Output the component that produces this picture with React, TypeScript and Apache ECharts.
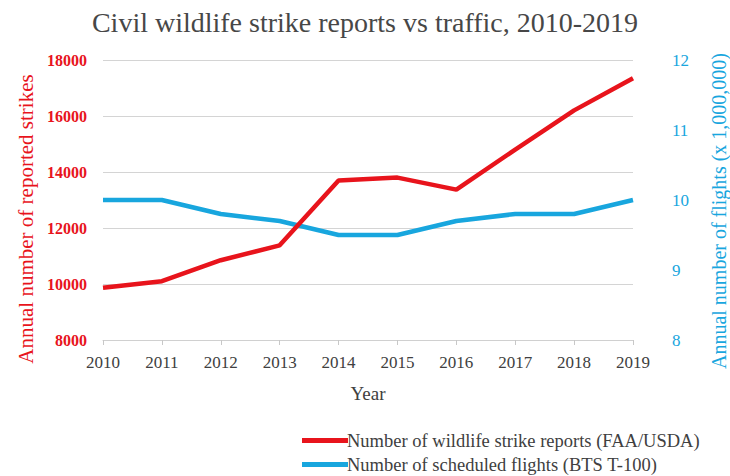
import React, { useEffect, useRef } from "react";
import * as echarts from "echarts";

const years = ["2010", "2011", "2012", "2013", "2014", "2015", "2016", "2017", "2018", "2019"];
const strikeReports = [9870, 10100, 10850, 11380, 13700, 13800, 13370, 14800, 16200, 17350];
const scheduledFlights = [10.0, 10.0, 9.8, 9.7, 9.5, 9.5, 9.7, 9.8, 9.8, 10.0];

const RED = "#e8141c";
const BLUE = "#18a6de";
const FONT = "Liberation Serif";
const STRIKE_NAME = "Number of wildlife strike reports (FAA/USDA)";
const FLIGHT_NAME = "Number of scheduled flights (BTS T-100)";

export default function App() {
  const ref = useRef<HTMLDivElement>(null);
  useEffect(() => {
    if (!ref.current) return;
    const chart = echarts.init(ref.current, null, { renderer: "svg" });
    const legendBase = {
      orient: "horizontal",
      left: 297,
      itemWidth: 46,
      itemHeight: 5,
      icon: "rect",
      textStyle: { fontFamily: FONT, fontSize: 18.5, color: "#404040", padding: [0, 0, 0, -6] },
    };
    chart.setOption({
      animation: false,
      backgroundColor: "#ffffff",
      title: {
        text: "Civil wildlife strike reports vs traffic, 2010-2019",
        left: "center",
        top: 3,
        textStyle: { fontFamily: FONT, fontSize: 28, fontWeight: "normal", color: "#474747" },
      },
      legend: [
        { ...legendBase, top: 426, data: [STRIKE_NAME] },
        { ...legendBase, top: 450, data: [FLIGHT_NAME] },
      ],
      grid: { left: 103, right: 97, top: 60, bottom: 136, containLabel: false, outerBoundsMode: "none" },
      graphic: [
        {
          type: "text",
          x: 26,
          y: 219,
          rotation: Math.PI / 2,
          style: {
            text: "Annual number of reported strikes",
            fill: RED,
            font: `21px "${FONT}"`,
            textAlign: "center",
            textVerticalAlign: "middle",
          },
        },
        {
          type: "text",
          x: 719,
          y: 211,
          rotation: Math.PI / 2,
          style: {
            text: "Annual number of flights (x 1,000,000)",
            fill: BLUE,
            font: `20px "${FONT}"`,
            textAlign: "center",
            textVerticalAlign: "middle",
          },
        },
      ],
      xAxis: {
        type: "category",
        data: years,
        boundaryGap: false,
        name: "Year",
        nameLocation: "middle",
        nameGap: 44,
        nameTextStyle: { fontFamily: FONT, fontSize: 19, color: "#404040" },
        axisLine: { lineStyle: { color: "#d0d0d0", width: 1 } },
        axisTick: { show: true, alignWithLabel: true, length: 5, lineStyle: { color: "#c8c8c8" } },
        axisLabel: { fontFamily: FONT, fontSize: 17, color: "#404040", margin: 14 },
      },
      yAxis: [
        {
          type: "value",
          min: 8000,
          max: 18000,
          interval: 2000,
          axisLabel: {
            fontFamily: FONT,
            fontSize: 16,
            color: RED,
            fontWeight: "bold",
            margin: 16,
            formatter: (v: number) => String(v),
          },
          axisLine: { show: false },
          axisTick: { show: false },
          splitLine: { lineStyle: { color: "#d4d4d4", width: 1 } },
        },
        {
          type: "value",
          min: 8,
          max: 12,
          interval: 1,
          axisLabel: {
            fontFamily: FONT,
            fontSize: 17,
            color: BLUE,
            margin: 39,
            formatter: (v: number) => String(v),
          },
          axisLine: { show: false },
          axisTick: { show: false },
          splitLine: { show: false },
        },
      ],
      series: [
        {
          name: STRIKE_NAME,
          type: "line",
          yAxisIndex: 0,
          data: strikeReports,
          showSymbol: false,
          symbol: "none",
          color: RED,
          lineStyle: { color: RED, width: 4.5 },
          z: 3,
        },
        {
          name: FLIGHT_NAME,
          type: "line",
          yAxisIndex: 1,
          data: scheduledFlights,
          showSymbol: false,
          symbol: "none",
          color: BLUE,
          lineStyle: { color: BLUE, width: 4.5 },
          z: 2,
        },
      ],
    });
    return () => chart.dispose();
  }, []);
  return <div ref={ref} style={{ width: 730, height: 476, position: "absolute", left: 0, top: 0 }} />;
}
